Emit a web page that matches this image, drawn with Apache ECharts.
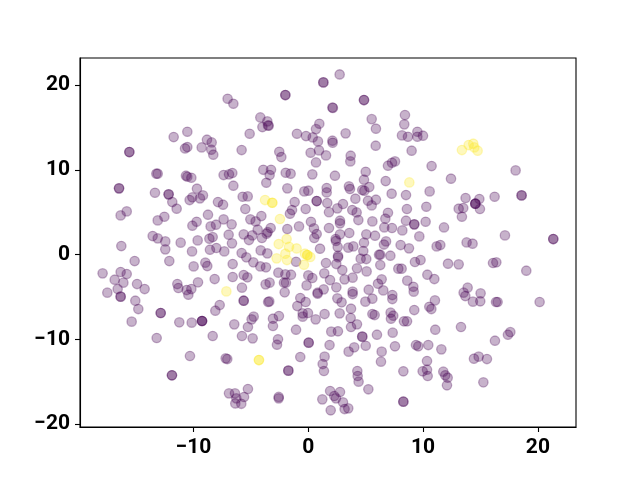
<!DOCTYPE html>
<html>
<head>
<meta charset="utf-8">
<style>
  html, body { margin: 0; padding: 0; background: #fff; }
  #chart { width: 640px; height: 480px; }
</style>
<script src="https://cdn.jsdelivr.net/npm/echarts@6/dist/echarts.min.js"></script>
</head>
<body>
<div id="chart"></div>
<script>
const xTicks = [-10, 0, 10, 20]
const yTicks = [-20, -10, 0, 10, 20]

// repeated pairs are the spots that read darker in the picture
const purplePoints = [
  [1.31,20.31],[1.31,20.31],[-2.0,18.82],[-2.0,18.82],[-7.03,18.38],[-6.53,17.79],[2.1,17.34],[2.14,17.3],
  [-4.18,16.18],[-3.57,15.71],[-4.0,15.04],[-3.51,15.24],[-3.45,15.2],[-5.11,14.25],[0.96,15.43],[0.67,14.8],
  [-0.99,14.25],[-0.2,13.98],[0.38,13.82],[0.84,13.35],[-10.54,14.49],[-11.73,13.86],[-8.83,13.55],
  [-8.42,13.23],[-10.54,12.68],[-10.74,12.52],[-9.29,12.64],[-8.45,12.37],[-8.28,11.78],[-5.81,12.33],[-15.59,12.09],
  [-15.59,12.09],[-2.53,12.13],[-2.35,11.5],[0.2,12.01],[0.93,12.29],[1.54,11.7],[0.67,10.87],[-13.24,9.54],
  [-13.12,9.54],[-10.66,9.3],[-10.54,9.18],[-10.19,9.06],[-7.38,9.38],[-6.91,9.46],[-6.62,9.62],[-3.92,10.0],
  [-3.25,10.0],[-3.37,9.38],[-3.66,8.47],[-1.97,9.65],[-1.54,9.54],[0.35,9.46],[-6.53,8.12],[-1.83,7.81],
  [-16.49,7.81],[-16.49,7.81],[-13.36,7.29],[-9.7,7.77],[-12.17,7.1],[-12.17,7.1],[-10.1,6.75],[-9.18,6.98],
  [-9.44,6.63],[-10.34,6.43],[-11.85,6.19],[-11.47,5.41],[-5.72,6.82],[-5.28,6.86],[-7.87,6.19],[-7.43,5.88],
  [-5.49,5.37],[-15.82,5.09],[-16.35,4.62],[-12.54,4.46],[-13.12,4.03],[-8.74,4.7],[-9.73,3.87],[-10.1,3.4],
  [-8.51,3.32],[-8.04,3.52],[-7.38,4.15],[-6.68,3.56],[-5.05,4.15],[-4.59,3.91],[-4.09,4.54],[-4.41,2.93],
  [-3.28,3.13],[-3.54,2.65],[-3.63,2.46],[-5.63,2.38],[-4.88,2.26],[-5.17,1.71],[-4.04,1.95],[-1.83,3.01],
  [-0.81,3.32],[-1.6,4.82],[-1.42,5.25],[-1.19,6.19],[-0.23,5.37],[-0.35,7.45],[0.0,7.53],[0.73,6.31],
  [0.73,6.31],[1.6,7.85],[1.6,7.33],[1.65,6.08],[0.23,3.87],[0.49,3.09],
  [0.73,2.42],[0.52,1.95],[-13.56,2.18],[-13.12,1.91],[-12.46,1.55],[-11.12,1.4],[-9.64,1.67],
  [-8.62,1.87],[-8.33,2.06],[-6.94,2.34],[-6.65,1.32],[-16.29,1.0],[-12.46,0.61],[-15.13,-0.77],[-12.11,-0.77],
  [-10.13,0.37],[-8.57,0.57],[-8.01,0.77],[-7.32,0.37],[-5.81,0.18],[-5.4,-0.33],[-4.79,-0.92],[-4.15,0.49],
  [-3.57,0.14],[-4.18,-1.4],[-3.69,-1.51],[-1.07,-0.85],[1.02,0.69],[1.54,-1.0],[-9.99,-1.4],[-8.97,-0.96],
  [-8.8,-1.36],[-6.59,-1.12],[-17.92,-2.22],[-16.35,-2.06],[-15.82,-2.3],[-16.87,-2.97],[-16.11,-3.32],[-16.61,-4.07],
  [-17.51,-4.5],[-16.35,-4.97],[-16.35,-4.97],[-14.92,-3.48],[-14.26,-4.07],[-15.07,-5.45],[-14.81,-6.43],[-15.39,-7.92],
  [-12.86,-6.9],[-12.86,-6.9],[-13.21,-9.85],[-11.41,-3.48],[-11.32,-3.95],[-10.6,-4.19],[-10.19,-4.07],[-10.45,-4.74],
  [-9.61,-3.28],[-8.16,-2.89],[-6.59,-2.65],[-5.63,-2.42],[-5.31,-2.69],[-5.78,-3.91],[-2.61,-2.14],[-2.0,-2.34],
  [-1.51,-2.38],[-3.72,-3.52],[-3.37,-3.32],[-2.12,-3.32],[-1.95,-3.32],[-2.06,-4.46],[-5.63,-5.45],[-5.63,-5.45],
  [-3.4,-5.53],[-3.5,-5.6],[-7.72,-5.96],[-8.1,-6.63],[-11.24,-8.0],[-10.16,-8.04],[-9.26,-7.84],[-9.26,-7.84],
  [-9.26,-7.84],[-6.45,-8.24],[-8.33,-9.61],[-4.76,-7.33],[-4.94,-7.65],[-5.26,-8.55],[-5.78,-9.61],[-4.85,-9.89],
  [-3.08,-7.57],[-2.56,-7.26],[-3.08,-8.43],[-1.07,-8.87],[-2.64,-10.0],[-2.73,-10.64],[0.03,-10.4],[0.03,-10.4],
  [-0.7,-12.09],[0.64,-7.65],[-10.31,-11.97],[-7.2,-12.25],[-7.06,-12.33],[-11.88,-14.25],[-11.88,-14.25],[-1.74,-13.7],
  [-1.74,-13.7],[-6.91,-16.38],[-6.39,-16.38],[-5.26,-15.87],[-5.6,-16.81],[-6.27,-16.97],[-6.36,-17.57],
  [-5.84,-17.61],[-2.58,-16.8],[-2.58,-16.97],[1.22,-17.09],[1.42,-12.05],[1.25,-12.92],
  [1.36,-13.74],[-0.7,-5.13],[-0.23,-5.6],[-0.96,-6.08],[-0.03,-6.9],[-0.49,-6.94],
  [-0.49,-7.33],[1.42,-7.02],[0.81,-4.5],[0.81,-4.62],[1.34,-4.11],[-0.15,-3.64],[0.35,-2.77],[0.0,-2.46],
  [1.39,-2.22],[2.41,1.6],[2.56,0.88],[3.48,0.81],[3.92,0.96],[4.85,1.4],[4.79,0.41],
  [6.59,1.18],[6.77,1.55],[8.04,1.12],[8.77,0.73],[11.18,0.96],[11.5,1.12],[13.79,1.43],[14.31,1.28],
  [2.59,-0.14],[2.59,-0.33],[2.44,-1.12],[2.96,-1.83],[4.56,-0.49],[5.05,-0.53],[6.16,-0.02],[6.27,-0.02],
  [7.15,-0.14],[6.27,-1.24],[4.24,-1.63],[5.08,-1.99],[9.29,-0.88],[9.78,-0.65],[7.84,-1.67],[8.13,-1.67],
  [12.17,-1.08],[13.1,-1.16],[16.09,-1.0],[16.38,-0.92],[18.99,-1.91],[10.37,-2.38],[10.98,-2.89],[8.62,-3.08],
  [9.15,-3.8],[9.18,-4.38],[3.16,-2.93],[3.86,-2.73],[1.89,-3.01],[2.44,-3.87],[6.39,-2.93],[6.07,-3.44],
  [6.53,-4.23],[5.26,-4.15],[3.86,-4.38],[3.86,-4.66],[2.53,-5.17],[2.9,-5.64],[4.97,-5.56],[5.58,-5.21],
  [7.32,-4.78],[7.32,-5.25],[13.88,-3.91],[13.53,-4.5],[13.68,-4.9],[15.01,-4.58],[14.34,-5.56],[14.98,-5.52],
  [16.35,-5.6],[16.49,-5.6],[20.15,-5.6],[11.03,-5.41],[10.54,-6.16],[10.72,-6.43],[9.23,-6.55],[3.72,-6.39],
  [2.73,-6.94],[3.69,-7.49],[5.58,-7.02],[5.78,-7.14],[7.17,-6.86],[7.4,-7.22],[7.2,-7.57],[8.33,-7.88],
  [8.6,-7.88],[4.24,-8.24],[3.72,-8.55],[2.0,-9.1],[2.58,-9.06],[4.7,-9.69],[4.7,-9.69],[5.98,-9.46],
  [7.35,-9.22],[11.06,-8.87],[13.3,-8.55],[17.6,-9.15],[17.39,-9.46],[16.26,-10.17],[1.85,-10.68],[4.0,-10.95],
  [3.51,-11.46],[5.0,-10.76],[6.39,-11.46],[6.33,-12.64],[7.55,-10.83],[9.38,-10.68],[9.58,-10.83],[10.45,-10.68],
  [11.59,-11.19],[10.34,-12.56],[14.43,-12.29],[14.84,-12.05],[15.56,-12.33],[8.28,-13.78],[4.27,-13.74],[4.3,-14.33],
  [4.38,-15.0],[5.23,-15.9],[10.34,-13.59],[9.96,-13.78],[10.4,-14.33],[11.76,-13.82],[11.93,-14.25],
  [12.14,-14.53],[12.08,-15.43],[15.25,-15.08],[2.76,-16.22],[1.9,-16.1],[2.26,-16.69],[2.41,-16.97],
  [3.02,-17.44],[3.16,-18.23],[3.48,-18.15],[1.95,-18.38],[8.28,-17.36],[8.28,-17.36],[2.73,21.25],[4.85,18.23],
  [4.85,18.23],[5.52,15.98],[5.89,14.85],[8.42,16.46],[8.36,15.36],[8.16,14.06],[8.68,13.9],[9.5,14.49],
  [9.5,13.9],[9.99,14.02],[3.25,14.3],[2.1,13.43],[2.12,13.19],[5.87,12.84],[9.0,12.25],[10.74,10.44],
  [18.06,9.93],[12.43,8.95],[7.55,10.99],[7.29,10.83],[6.94,10.48],[3.69,11.66],[3.66,10.99],[5.0,9.77],
  [2.32,9.3],[4.85,8.83],[6.74,8.67],[3.54,8.04],[3.63,7.73],[5.31,7.96],[4.7,7.61],[4.88,7.53],
  [7.26,7.18],[8.51,7.02],[10.57,7.45],[4.1,6.59],[5.2,6.35],[5.89,6.47],[5.52,5.8],[3.02,5.96],
  [2.53,5.45],[1.8,5.0],[3.83,5.25],[4.21,4.97],[4.36,4.07],[2.76,3.99],[2.76,3.68],[6.94,4.93],
  [6.71,4.23],[5.58,3.91],[8.59,5.37],[10.28,5.64],[8.51,3.99],[9.23,3.56],[9.23,3.56],[10.22,3.87],
  [6.62,3.2],[7.29,3.13],[8.19,2.85],[11.82,3.2],[9.67,2.14],[5.05,2.38],[5.81,2.22],[3.57,2.54],
  [2.76,2.38],[2.38,1.83],[1.8,3.13],[13.7,6.67],[14.9,6.55],
  [13.5,5.49],[13.1,5.41],[14.55,6.0],[14.55,6.0],[14.55,6.0],[14.95,5.37],[13.38,4.46],[16.23,6.82],
  [18.58,6.98],[18.58,6.98],[17.13,2.26],[21.34,1.83],[21.34,1.83]
]

const yellowPoints = [
  [-3.77,6.43],[-3.14,6.11],[-3.14,6.11],[-2.47,4.19],[-1.89,1.83],[-2.58,1.24],[-1.68,0.9],[-1.02,0.72],
  [-2.0,0.1],[-2.76,-0.45],[-1.86,-0.65],[-0.29,0.1],[-0.09,-0.06],[-0.09,-0.06],[0.17,-0.29],[-0.38,-1.2],
  [-7.14,-4.35],[-4.3,-12.45],[-4.3,-12.45],[13.38,12.33],[13.97,12.92],[14.37,13.08],[14.46,12.64],[14.75,12.25],
  [8.8,8.51]
]

const chart = echarts.init(document.getElementById('chart'), null, { renderer: 'canvas' })

function formatTick(value) {
  return String(value).replace('-', '\u2212')
}

function axisOption(min, max, ticks) {
  return {
    type: 'value',
    min,
    max,
    splitLine: { show: false },
    axisLine: { show: true, onZero: false, lineStyle: { color: '#000', width: 1.1 } },
    axisTick: {
      show: true,
      length: 5,
      customValues: ticks,
      lineStyle: { color: '#000', width: 1.1 }
    },
    axisLabel: {
      show: true,
      customValues: ticks,
      margin: 10,
      color: '#000',
      fontFamily: 'Roboto',
      fontWeight: 'bold',
      fontSize: 21,
      formatter: formatTick
    }
  }
}

function pointSeries(data, fill) {
  return {
    type: 'scatter',
    data,
    symbol: 'circle',
    symbolSize: 9.4,
    itemStyle: {
      color: fill,
      borderColor: fill,
      borderWidth: 1.3,
      opacity: 1
    },
    silent: true
  }
}

chart.setOption({
  animation: false,
  backgroundColor: '#fff',
  grid: { show: true, borderColor: '#000', borderWidth: 1.1, left: 80, right: 64, top: 58, bottom: 53 },
  xAxis: axisOption(-19.89, 23.32, xTicks),
  yAxis: axisOption(-20.35, 23.19, yTicks),
  series: [
    pointSeries(purplePoints, 'rgba(68, 1, 84, 0.3)'),
    pointSeries(yellowPoints, 'rgba(253, 231, 37, 0.3)')
  ]
})
</script>
</body>
</html>
